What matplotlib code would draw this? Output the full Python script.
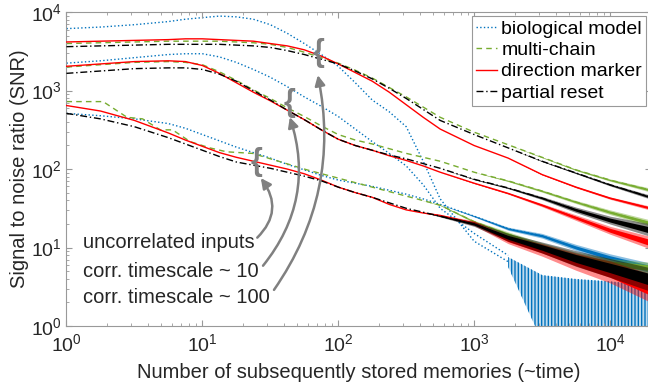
import numpy as np
import matplotlib.pyplot as plt

plt.rcParams['font.family'] = ['Liberation Sans', 'DejaVu Sans']
plt.rcParams['mathtext.fontset'] = 'custom'
plt.rcParams['mathtext.rm'] = 'Liberation Sans'
plt.rcParams['mathtext.it'] = 'Liberation Sans:italic'
plt.rcParams['hatch.linewidth'] = 1.0

# number of stored memories (shared grid), values are log10(SNR)
memories = [1, 1.778, 3.162, 5.623, 7.499, 10, 13.34, 17.78, 23.71, 31.62, 42.17,
            56.23, 74.99, 100, 133.4, 177.8, 237.1, 316.2, 421.7, 562.3, 1000,
            1778, 3162, 5623, 10000, 20000]
nan = np.nan

# corr. timescale ~ 100
bio_c100 = [3.79, 3.81, 3.84, 3.88, 3.91, 3.93, 3.95, 3.94, 3.91, 3.84, 3.73,
            3.60, 3.46, 3.31, 3.10, 2.88, 2.73, 2.54, 2.10, 1.62, 1.08,
            0.82, nan, nan, nan, nan]
multi_c100 = [3.60, 3.61, 3.62, 3.63, 3.63, 3.63, 3.63, 3.62, 3.61, 3.59, 3.55,
              3.49, 3.42, 3.35, 3.26, 3.16, 3.04, 2.92, 2.79, 2.66, 2.47,
              2.31, 2.15, 1.99, 1.86, 1.73]
dir_c100 = [3.62, 3.63, 3.64, 3.65, 3.66, 3.66, 3.65, 3.64, 3.63, 3.60, 3.57,
            3.52, 3.44, 3.34, 3.23, 3.12, 2.98, 2.82, 2.66, 2.51, 2.30,
            2.14, 1.93, 1.77, 1.63, 1.50]
reset_c100 = [3.56, 3.57, 3.58, 3.59, 3.59, 3.59, 3.59, 3.58, 3.57, 3.55, 3.51,
              3.46, 3.40, 3.34, 3.25, 3.15, 3.03, 2.90, 2.76, 2.62, 2.44,
              2.27, 2.10, 1.95, 1.80, 1.64]

# corr. timescale ~ 10
bio_c10 = [3.35, 3.38, 3.42, 3.46, 3.47, 3.47, 3.43, 3.36, 3.27, 3.17, 3.05,
           2.92, 2.80, 2.67, 2.51, 2.35, 2.20, 2.04, 1.80, 1.50, 1.18,
           0.90, nan, nan, nan, nan]
multi_c10 = [3.30, 3.33, 3.36, 3.37, 3.36, 3.33, 3.24, 3.13, 3.01, 2.90, 2.78,
             2.67, 2.55, 2.44, 2.37, 2.32, 2.26, 2.20, 2.15, 2.10, 1.96,
             1.85, 1.72, 1.58, 1.45, 1.31]
dir_c10 = [3.31, 3.34, 3.37, 3.38, 3.37, 3.32, 3.22, 3.10, 2.98, 2.87, 2.75,
           2.63, 2.50, 2.38, 2.30, 2.24, 2.17, 2.11, 2.04, 1.96, 1.82,
           1.69, 1.54, 1.38, 1.22, 1.06]
reset_c10 = [3.22, 3.25, 3.28, 3.29, 3.29, 3.27, 3.21, 3.12, 3.00, 2.88, 2.75,
             2.63, 2.50, 2.38, 2.30, 2.24, 2.18, 2.13, 2.07, 2.01, 1.87,
             1.76, 1.63, 1.48, 1.35, 1.22]

# uncorrelated inputs
bio_unc = [2.71, 2.68, 2.64, 2.58, 2.52, 2.44, 2.36, 2.28, 2.21, 2.14, 2.06,
           1.99, 1.92, 1.86, 1.82, 1.78, 1.73, 1.68, 1.62, 1.55, 1.40,
           1.24, 1.15, 1.00, 0.87, 0.74]
dir_unc = [2.81, 2.74, 2.62, 2.46, 2.37, 2.29, 2.21, 2.15, 2.10, 2.05, 2.00,
           1.94, 1.86, 1.77, 1.70, 1.64, 1.55, 1.48, 1.44, 1.41, 1.31,
           1.10, 0.97, 0.82, 0.69, 0.48]
reset_unc = [2.71, 2.64, 2.54, 2.40, 2.32, 2.24, 2.16, 2.09, 2.05, 2.01, 1.96,
             1.91, 1.85, 1.77, 1.70, 1.64, 1.57, 1.50, 1.45, 1.40, 1.30,
             1.13, 1.00, 0.86, 0.74, 0.59]
multi_unc_mem = [1, 1.86, 2.79, 3.63, 4.9, 6.03, 8.13, 11.35, 15.1, 23.4, 58.9,
                 177.8, 398, 562.3, 1000, 1778, 3162, 5623, 10000, 20000]
multi_unc = [2.86, 2.86, 2.66, 2.64, 2.50, 2.50, 2.35, 2.27, 2.22, 2.20, 1.99,
             1.77, 1.61, 1.54, 1.33, 1.17, 1.02, 0.89, 0.80, 0.74]

# half-width of the noise (log10) over the last 7 points (562 .. 20000)
noise_dir_unc = [0.01, 0.03, 0.05, 0.08, 0.11, 0.14, 0.18]
noise_reset_unc = [0.01, 0.03, 0.05, 0.07, 0.10, 0.12, 0.15]
noise_bio_unc = [0.0, 0.01, 0.02, 0.03, 0.04, 0.05, 0.06]
noise_multi_unc = [0.005, 0.015, 0.03, 0.04, 0.05, 0.06, 0.07]
noise_c10 = [0.0, 0.005, 0.01, 0.02, 0.035, 0.05, 0.08]
noise_multi_c10 = [0.0, 0.0, 0.01, 0.015, 0.02, 0.03, 0.04]
noise_c100 = [0.0, 0.0, 0.0, 0.005, 0.01, 0.015, 0.025]

# biological model (correlated) decays into noise
bio_noise_mem = [1778, 3162, 5623, 10000, 20000]
bio_noise_hi = [0.88, 0.65, 0.60, 0.57, 0.52]
bio_noise_lo = [0.75, -0.2, -0.5, -0.5, -0.5]

c_bio = '#0072BD'
c_multi = '#77AC30'
c_dir = '#FF0000'
c_reset = '#000000'


def curve(ax, x, y, noise, color, ls, z, label=None):
    y = np.array(y)
    x = np.array(x)
    ax.plot(x, 10 ** y, ls=ls, color=color, lw=1.0, zorder=z, label=label)
    if noise is not None:
        s = np.zeros(len(y))
        s[-len(noise):] = noise
        # faint outer spikes + solid core
        ax.fill_between(x, 10 ** (y - s), 10 ** (y + s), color=color, lw=0,
                        alpha=0.45, zorder=z)
        ax.fill_between(x, 10 ** (y - s / 2), 10 ** (y + s / 2), color=color, lw=0,
                        zorder=z)


fig = plt.figure(figsize=(6.48, 3.87), dpi=100)
ax = fig.add_axes([0.1026, 0.1576, 0.902, 0.811])

# blue first, then green, red, black on top
lo = np.power(10.0, bio_noise_lo)
hi = np.power(10.0, bio_noise_hi)
ax.fill_between(bio_noise_mem, lo, hi, color=c_bio, lw=0, alpha=0.25, zorder=1)
ax.fill_between(bio_noise_mem, lo, hi, facecolor='none', edgecolor=c_bio,
                hatch='|||||', lw=0, zorder=1)
curve(ax, memories, bio_c100, None, c_bio, ':', 1, 'biological model')
curve(ax, memories, bio_c10, None, c_bio, ':', 1)
curve(ax, memories, bio_unc, noise_bio_unc, c_bio, ':', 1)

curve(ax, memories, multi_c100, noise_c100, c_multi, (0, (4, 3)), 2, 'multi-chain')
curve(ax, memories, multi_c10, noise_multi_c10, c_multi, (0, (4, 3)), 2)
curve(ax, multi_unc_mem, multi_unc, noise_multi_unc, c_multi, (0, (4, 3)), 2)

curve(ax, memories, dir_c100, noise_c100, c_dir, '-', 3, 'direction marker')
curve(ax, memories, dir_c10, noise_c10, c_dir, '-', 3)
curve(ax, memories, dir_unc, noise_dir_unc, c_dir, '-', 3)

curve(ax, memories, reset_c100, noise_c100, c_reset, (0, (5, 2, 1, 2)), 4, 'partial reset')
curve(ax, memories, reset_c10, noise_c10, c_reset, (0, (5, 2, 1, 2)), 4)
curve(ax, memories, reset_unc, noise_reset_unc, c_reset, (0, (5, 2, 1, 2)), 4)

ax.set_xscale('log')
ax.set_yscale('log')
ax.set_xlim(1, 2e4)
ax.set_ylim(1, 1e4)

axc = '0.6'
for sp in ax.spines.values():
    sp.set_color(axc)
ax.tick_params(which='both', direction='in', top=True, right=True, color=axc,
               labelcolor='0.15', labelsize=14)
ax.tick_params(axis='x', pad=5)
ax.tick_params(which='major', length=4)
ax.tick_params(which='minor', length=2)

ax.set_xlabel('Number of subsequently stored memories (~time)', fontsize=14.5,
              color='0.15', labelpad=6)
ax.set_ylabel('Signal to noise ratio (SNR)', fontsize=14.5, color='0.15', labelpad=1)

# braces + arrows for the three input groups
grey = '0.5'
for bx, by in [(25, 123), (44, 690), (72, 3000)]:
    ax.text(bx, by, '{', fontsize=22, color=grey, ha='center', va='center',
            fontweight='bold', zorder=6)

arr = dict(arrowstyle='-|>', color=grey, lw=1.8, mutation_scale=15)
ax.annotate('uncorrelated inputs', xy=(26.9, 76.8), xytext=(1.32, 11.7), fontsize=14.5,
            color='0.15', va='center', zorder=6,
            arrowprops=dict(arr, connectionstyle='arc3,rad=0.45',
                            shrinkA=0, shrinkB=0, relpos=(1.0, 0.6)))
ax.annotate('corr. timescale ~ 10', xy=(44, 459), xytext=(1.32, 5.0), fontsize=14.5,
            color='0.15', va='center', zorder=6,
            arrowprops=dict(arr, connectionstyle='arc3,rad=0.28',
                            shrinkA=2, shrinkB=0, relpos=(1.0, 0.5)))
ax.annotate('corr. timescale ~ 100', xy=(70.7, 1575), xytext=(1.32, 2.28), fontsize=14.5,
            color='0.15', va='center', zorder=6,
            arrowprops=dict(arr, connectionstyle='arc3,rad=0.22',
                            shrinkA=2, shrinkB=0, relpos=(1.0, 0.6)))

leg = ax.legend(loc='upper right', bbox_to_anchor=(646 / 648, 1 - 16 / 387),
                bbox_transform=fig.transFigure, borderaxespad=0, fontsize=14,
                handlelength=1.1, handletextpad=0.2, labelspacing=0.2,
                borderpad=0.2, fancybox=False, framealpha=1)
leg.get_frame().set_edgecolor(axc)
leg.get_frame().set_linewidth(0.8)

fig.savefig('out.png', dpi=100)
